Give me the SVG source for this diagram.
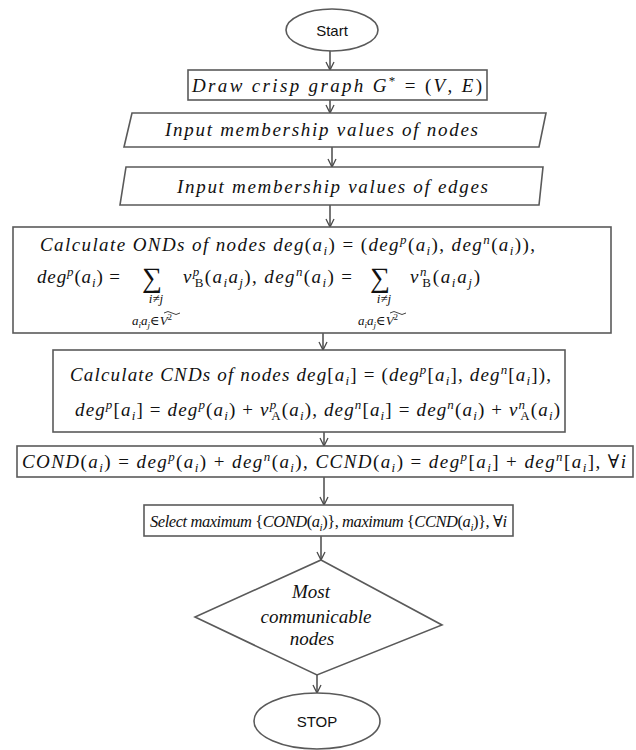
<svg xmlns="http://www.w3.org/2000/svg" width="636" height="750" viewBox="0 0 636 750">
<defs>
<marker id="ah" markerWidth="12" markerHeight="12" refX="9" refY="5" orient="auto" markerUnits="userSpaceOnUse">
<path d="M1,1 L9,5 L1,9" fill="none" stroke="#4a4a4a" stroke-width="1.3"/>
</marker>
<style>
.sh{fill:#fff;stroke:#5a5a5a;stroke-width:1.6}
.ln{fill:none;stroke:#4a4a4a;stroke-width:1.5;marker-end:url(#ah)}
.m{font-family:"Liberation Serif","DejaVu Serif",serif;font-style:italic;font-size:19px;fill:#111}
.u{font-style:normal}
.s{font-size:13px}
.ss{font-size:9px}
.sg{font-family:"Liberation Serif","DejaVu Serif",serif;font-size:28px;fill:#111}
.a{font-family:"Liberation Sans",Arial,sans-serif;font-size:15px;fill:#111;text-anchor:middle}
</style>
</defs>
<g id="connectors">
<line class="ln" x1="330" y1="51" x2="330" y2="70"/>
<line class="ln" x1="330" y1="100" x2="330" y2="113"/>
<line class="ln" x1="332" y1="147" x2="332" y2="167"/>
<line class="ln" x1="330" y1="205" x2="330" y2="227"/>
<line class="ln" x1="323" y1="333" x2="323" y2="350"/>
<line class="ln" x1="324" y1="432" x2="324" y2="446"/>
<line class="ln" x1="324" y1="477" x2="324" y2="505"/>
<line class="ln" x1="321" y1="536" x2="321" y2="560"/>
<line class="ln" x1="317" y1="675" x2="317" y2="693"/>
</g>
<g id="start">
<ellipse class="sh" cx="332" cy="30" rx="46" ry="21"/>
<text class="a" x="332" y="36">Start</text>
</g>
<g id="draw">
<rect class="sh" x="188" y="70" width="299" height="30"/>
<text class="m" x="192" y="92" textLength="290">Draw crisp graph G<tspan class="u s" dy="-7">*</tspan><tspan class="u" dy="7"> = (</tspan>V<tspan class="u">, </tspan>E<tspan class="u">)</tspan></text>
</g>
<g id="input-nodes">
<polygon class="sh" points="132,113 546,113 539,147 124,147"/>
<text class="m" x="165" y="136" textLength="313">Input membership values of nodes</text>
</g>
<g id="input-edges">
<polygon class="sh" points="126,167 543,167 539,205 120,205"/>
<text class="m" x="177" y="193" textLength="311">Input membership values of edges</text>
</g>
<g id="ond">
<rect class="sh" x="13" y="227" width="598" height="106"/>
<text class="m" x="40" y="251" textLength="495">Calculate ONDs of nodes deg<tspan class="u">(</tspan>a<tspan class="s" dy="4">i</tspan><tspan class="u" dy="-4">) = (</tspan>deg<tspan class="s" dy="-7">p</tspan><tspan class="u" dy="7">(</tspan>a<tspan class="s" dy="4">i</tspan><tspan class="u" dy="-4">), </tspan>deg<tspan class="s" dy="-7">n</tspan><tspan class="u" dy="7">(</tspan>a<tspan class="s" dy="4">i</tspan><tspan class="u" dy="-4">)),</tspan></text>
<text class="m" x="37" y="283" textLength="83">deg<tspan class="s" dy="-7">p</tspan><tspan class="u" dy="7">(</tspan>a<tspan class="s" dy="4">i</tspan><tspan class="u" dy="-4">) =</tspan></text>
<text class="sg" x="142" y="287">∑</text>
<text class="m" x="183" y="283" textLength="169">ν<tspan class="s" dy="-7">p</tspan><tspan class="u s" dx="-6" dy="11">B</tspan><tspan class="u" dy="-4">(</tspan>a<tspan class="s" dy="4">i</tspan><tspan dy="-4">a</tspan><tspan class="s" dy="4">j</tspan><tspan class="u" dy="-4">), </tspan>deg<tspan class="s" dy="-7">n</tspan><tspan class="u" dy="7">(</tspan>a<tspan class="s" dy="4">i</tspan><tspan class="u" dy="-4">) =</tspan></text>
<text class="sg" x="370" y="287">∑</text>
<text class="m" x="410" y="283" textLength="70">ν<tspan class="s" dy="-7">n</tspan><tspan class="u s" dx="-6" dy="11">B</tspan><tspan class="u" dy="-4">(</tspan>a<tspan class="s" dy="4">i</tspan><tspan dy="-4">a</tspan><tspan class="s" dy="4">j</tspan><tspan class="u" dy="-4">)</tspan></text>
<text class="m s" x="156" y="303" text-anchor="middle">i<tspan class="u">≠</tspan>j</text>
<text class="m s" x="384" y="303" text-anchor="middle">i<tspan class="u">≠</tspan>j</text>
<text class="m s" x="132" y="325">a<tspan class="ss" dy="3">i</tspan><tspan dy="-3">a</tspan><tspan class="ss" dy="3">j</tspan><tspan class="u" dy="-3">∈</tspan>V<tspan class="u ss" dy="-5">2</tspan></text>
<text class="m s" x="358" y="325">a<tspan class="ss" dy="3">i</tspan><tspan dy="-3">a</tspan><tspan class="ss" dy="3">j</tspan><tspan class="u" dy="-3">∈</tspan>V<tspan class="u ss" dy="-5">2</tspan></text>
<path d="M164,313 q4,-3 8,0 t8,0" fill="none" stroke="#111" stroke-width="0.8"/>
<path d="M390,313 q4,-3 8,0 t8,0" fill="none" stroke="#111" stroke-width="0.8"/>
</g>
<g id="cnd">
<rect class="sh" x="53" y="350" width="512" height="82"/>
<text class="m" x="70" y="381" textLength="481">Calculate CNDs of nodes deg<tspan class="u">[</tspan>a<tspan class="s" dy="4">i</tspan><tspan class="u" dy="-4">] = (</tspan>deg<tspan class="s" dy="-7">p</tspan><tspan class="u" dy="7">[</tspan>a<tspan class="s" dy="4">i</tspan><tspan class="u" dy="-4">], </tspan>deg<tspan class="s" dy="-7">n</tspan><tspan class="u" dy="7">[</tspan>a<tspan class="s" dy="4">i</tspan><tspan class="u" dy="-4">]),</tspan></text>
<text class="m" x="75" y="416" textLength="485">deg<tspan class="s" dy="-7">p</tspan><tspan class="u" dy="7">[</tspan>a<tspan class="s" dy="4">i</tspan><tspan class="u" dy="-4">] = </tspan>deg<tspan class="s" dy="-7">p</tspan><tspan class="u" dy="7">(</tspan>a<tspan class="s" dy="4">i</tspan><tspan class="u" dy="-4">) + </tspan>ν<tspan class="s" dy="-7">p</tspan><tspan class="u s" dx="-6" dy="11">A</tspan><tspan class="u" dy="-4">(</tspan>a<tspan class="s" dy="4">i</tspan><tspan class="u" dy="-4">),  </tspan>deg<tspan class="s" dy="-7">n</tspan><tspan class="u" dy="7">[</tspan>a<tspan class="s" dy="4">i</tspan><tspan class="u" dy="-4">] = </tspan>deg<tspan class="s" dy="-7">n</tspan><tspan class="u" dy="7">(</tspan>a<tspan class="s" dy="4">i</tspan><tspan class="u" dy="-4">) + </tspan>ν<tspan class="s" dy="-7">n</tspan><tspan class="u s" dx="-6" dy="11">A</tspan><tspan class="u" dy="-4">(</tspan>a<tspan class="s" dy="4">i</tspan><tspan class="u" dy="-4">)</tspan></text>
</g>
<g id="cond">
<rect class="sh" x="17" y="446" width="616" height="31"/>
<text class="m" x="22" y="468" textLength="604">COND<tspan class="u">(</tspan>a<tspan class="s" dy="4">i</tspan><tspan class="u" dy="-4">) = </tspan>deg<tspan class="s" dy="-7">p</tspan><tspan class="u" dy="7">(</tspan>a<tspan class="s" dy="4">i</tspan><tspan class="u" dy="-4">) + </tspan>deg<tspan class="s" dy="-7">n</tspan><tspan class="u" dy="7">(</tspan>a<tspan class="s" dy="4">i</tspan><tspan class="u" dy="-4">),  </tspan>CCND<tspan class="u">(</tspan>a<tspan class="s" dy="4">i</tspan><tspan class="u" dy="-4">) = </tspan>deg<tspan class="s" dy="-7">p</tspan><tspan class="u" dy="7">[</tspan>a<tspan class="s" dy="4">i</tspan><tspan class="u" dy="-4">] + </tspan>deg<tspan class="s" dy="-7">n</tspan><tspan class="u" dy="7">[</tspan>a<tspan class="s" dy="4">i</tspan><tspan class="u" dy="-4">], ∀</tspan>i</text>
</g>
<g id="select">
<rect class="sh" x="144" y="505" width="369" height="31"/>
<text class="m" x="150" y="527" style="font-size:16.5px" textLength="357">Select maximum <tspan class="u">{</tspan>COND<tspan class="u">(</tspan>a<tspan class="s" dy="4" style="font-size:11px">i</tspan><tspan class="u" dy="-4">)}, </tspan>maximum <tspan class="u">{</tspan>CCND<tspan class="u">(</tspan>a<tspan class="s" dy="4" style="font-size:11px">i</tspan><tspan class="u" dy="-4">)}, ∀</tspan>i</text>
</g>
<g id="decision">
<polygon class="sh" points="321,560 442,625 317,675 195,617"/>
<text class="m" x="311" y="598" text-anchor="middle">Most</text>
<text class="m" x="316" y="623" text-anchor="middle">communicable</text>
<text class="m" x="312" y="645" text-anchor="middle">nodes</text>
</g>
<g id="stop">
<ellipse class="sh" cx="317" cy="721" rx="63" ry="28"/>
<text class="a" x="317" y="727">STOP</text>
</g>
</svg>
